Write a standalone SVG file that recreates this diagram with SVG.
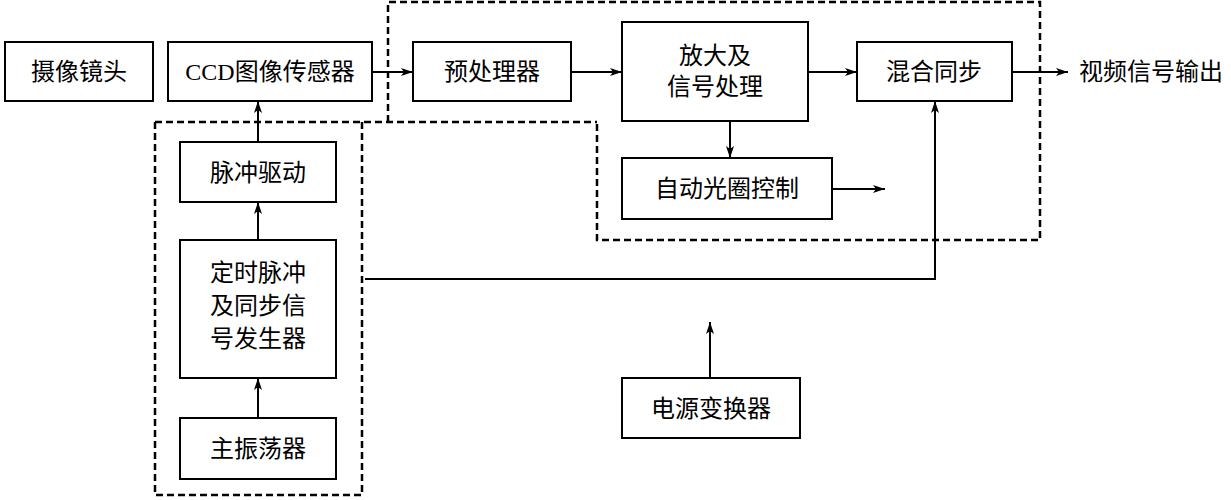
<svg xmlns="http://www.w3.org/2000/svg" width="1231" height="500" viewBox="0 0 1231 500">
<defs>
<style>
.b{fill:#fff;stroke:#000;stroke-width:2}
.t{font-family:"Liberation Serif","Noto Sans CJK SC",serif;font-size:24px;text-anchor:middle;fill:#000}
.l{fill:none;stroke:#000;stroke-width:2}
.d{fill:none;stroke:#000;stroke-width:2.5;stroke-dasharray:7,4}
</style>
<marker id="a" viewBox="0 0 12 8" refX="12" refY="4" markerWidth="12" markerHeight="8" markerUnits="userSpaceOnUse" orient="auto"><path d="M0,0L12,4L0,8L3,4Z" fill="#000"/></marker>
</defs>
<g id="dashed">
<path class="d" d="M388,122V2H1040V240H597V122"/>
<path class="d" d="M155,122H597M155,122V495H362V122"/>
</g>
<g id="lens"><rect class="b" x="5" y="42" width="148" height="59"/><text class="t" x="79" y="80">摄像镜头</text></g>
<g id="ccd"><rect class="b" x="168" y="42" width="204" height="59"/><text class="t" x="270" y="80">CCD图像传感器</text></g>
<g id="pre"><rect class="b" x="413" y="42" width="158" height="59"/><text class="t" x="492" y="80">预处理器</text></g>
<g id="amp"><rect class="b" x="622" y="22" width="186" height="99"/><text class="t" x="715" y="64">放大及</text><text class="t" x="715" y="95">信号处理</text></g>
<g id="mix"><rect class="b" x="857" y="42" width="155" height="59"/><text class="t" x="934" y="80">混合同步</text></g>
<g id="out"><text class="t" x="1151" y="80">视频信号输出</text></g>
<g id="iris"><rect class="b" x="622" y="158" width="210" height="61"/><text class="t" x="727" y="197">自动光圈控制</text></g>
<g id="drv"><rect class="b" x="180" y="142" width="156" height="60"/><text class="t" x="258" y="181">脉冲驱动</text></g>
<g id="timing"><rect class="b" x="180" y="240" width="156" height="138"/><text class="t" x="258" y="281">定时脉冲</text><text class="t" x="258" y="314">及同步信</text><text class="t" x="258" y="347">号发生器</text></g>
<g id="osc"><rect class="b" x="180" y="418" width="156" height="61"/><text class="t" x="258" y="457">主振荡器</text></g>
<g id="pwr"><rect class="b" x="622" y="378" width="178" height="60"/><text class="t" x="711" y="417">电源变换器</text></g>
<g id="connectors">
<path class="l" d="M372,72H413" marker-end="url(#a)"/>
<path class="l" d="M571,72H622" marker-end="url(#a)"/>
<path class="l" d="M808,72H857" marker-end="url(#a)"/>
<path class="l" d="M1012,72H1068" marker-end="url(#a)"/>
<path class="l" d="M730,121V158" marker-end="url(#a)"/>
<path class="l" d="M832,189H885" marker-end="url(#a)"/>
<path class="l" d="M258,142V101" marker-end="url(#a)"/>
<path class="l" d="M258,240V202" marker-end="url(#a)"/>
<path class="l" d="M258,418V378" marker-end="url(#a)"/>
<path class="l" d="M365,279H935V101" marker-end="url(#a)"/>
<path class="l" d="M710,378V322" marker-end="url(#a)"/>
</g>
</svg>
